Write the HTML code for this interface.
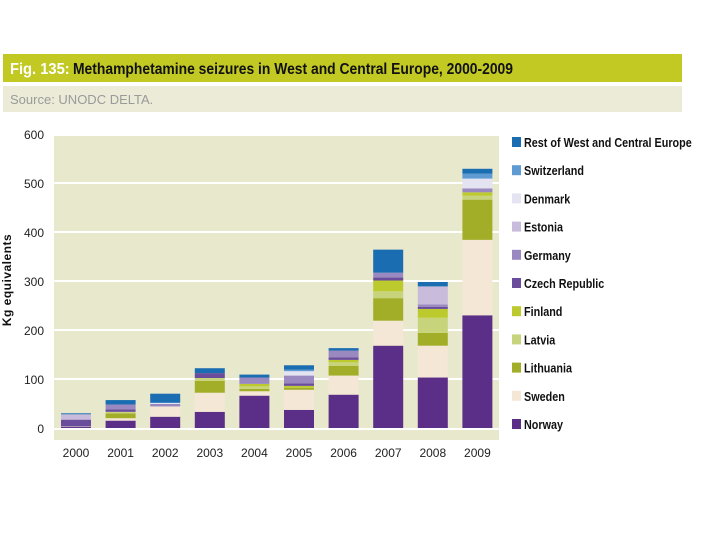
<!DOCTYPE html>
<html><head><meta charset="utf-8"><style>
body{margin:0;background:#fff;width:720px;height:540px;overflow:hidden;font-family:"Liberation Sans",sans-serif}
</style></head><body>
<svg width="720" height="540" viewBox="0 0 720 540" xmlns="http://www.w3.org/2000/svg" font-family="Liberation Sans, sans-serif">
<rect x="3" y="54" width="679" height="28" fill="#c2c923"/>
<text x="10" y="74" font-size="16" font-weight="bold" fill="#fff" transform="scale(0.92,1)" transform-origin="10 74">Fig. 135:</text>
<text x="73" y="74" font-size="16" font-weight="bold" fill="#111" textLength="440" lengthAdjust="spacingAndGlyphs">Methamphetamine seizures in West and Central Europe, 2000-2009</text>
<rect x="3" y="86" width="679" height="26" fill="#ecebd8"/>
<text x="10" y="104" font-size="13" fill="#9a9a9a">Source: UNODC DELTA.</text>
<rect x="54" y="136" width="445" height="304" fill="#e8e8cd"/>
<g id="grid"></g>
<g id="bars"></g>
<g id="axes"></g>
<g id="legend"></g>
<text x="0" y="0" font-size="12" font-weight="bold" fill="#111" transform="translate(11,280) rotate(-90)" text-anchor="middle" letter-spacing="0.5">Kg equivalents</text>
</svg>
<script>
const years=["2000","2001","2002","2003","2004","2005","2006","2007","2008","2009"];
const series=["Norway","Sweden","Lithuania","Latvia","Finland","Czech Republic","Germany","Estonia","Denmark","Switzerland","Rest of West and Central Europe"];
const colors=["#5b2f88","#f5e7d6","#a2ae28","#c8d47c","#bdca2e","#6a4c9c","#9a89c0","#c8bbdc","#e3e3f1","#5e9bd3","#1b6db2"];
const norway=[2,15,23,33,66,37,68,168,103,230];
const sweden=[1,5,21,39,9,41,39,51,65,154];
const lithuania=[0,10,0,24,5,4,20,46,26,82];
const latvia=[0,3,0,6,5,0,7,14,31,8];
const finland=[0,0,0,0,5,4,5,22,18,7];
const czech=[14,5,0,10,0,5,5,6,4,0];
const germany=[0,10,5,0,13,16,14,10,5,8];
const estonia=[11,0,0,0,0,0,0,0,37,0];
const denmark=[0,0,2,0,0,9,0,0,0,20];
const switzerland=[0,0,1,0,0,3,0,0,0,10];
const rest=[2,9,18,10,6,9,5,47,9,10];
const yTicks=[0,100,200,300,400,500,600];
const values=[norway,sweden,lithuania,latvia,finland,czech,germany,estonia,denmark,switzerland,rest];
const NS="http://www.w3.org/2000/svg";
const y0=428,pxPer=0.49;
function y(v){return y0-v*pxPer;}
function x(i){return 61+i*44.6;}
const bw=30;
function mk(t,a,p){const e=document.createElementNS(NS,t);for(const k in a)e.setAttribute(k,a[k]);p.appendChild(e);return e;}
const grid=document.getElementById('grid'),axes=document.getElementById('axes'),bars=document.getElementById('bars'),leg=document.getElementById('legend');
yTicks.forEach(t=>{
 if(t>0){const l=mk('line',{x1:54,x2:499,y1:y(t),y2:y(t),stroke:'#fff','stroke-width':2},grid);
 
 }
 const tx=mk('text',{x:44,y:y(t)+5,'font-size':12,'text-anchor':'end',fill:'#222'},axes);tx.textContent=t;
 
 
});
const base=mk('line',{x1:54,x2:499,y1:y0+1,y2:y0+1,stroke:'#fff','stroke-width':2},grid);


years.forEach((yr,i)=>{
 let cum=0;
 values.forEach((arr,s)=>{
  const v=arr[i];if(v<=0)return;
  const r=mk('rect',{x:x(i),y:y(cum+v),width:bw,height:v*pxPer,fill:colors[s]},bars);
  
  
  cum+=v;
 });
 const tx=mk('text',{x:x(i)+bw/2,y:457,'font-size':12,'text-anchor':'middle',fill:'#222'},axes);tx.textContent=yr;
 
 
});
for(let s=series.length-1,k=0;s>=0;s--,k++){
 const g=mk('g',{},leg);
 
 
 const yy=137+k*28.2;
 mk('rect',{x:512,y:yy,width:9,height:10,fill:colors[s]},g);
 const t=mk('text',{x:524,y:yy+10,'font-size':13,'font-weight':'bold',fill:'#111'},g);t.textContent=series[s];
 const w=t.getComputedTextLength();
 t.setAttribute('textLength',(w*0.83).toFixed(1));
 t.setAttribute('lengthAdjust','spacingAndGlyphs');
}
</script>
</body></html>
